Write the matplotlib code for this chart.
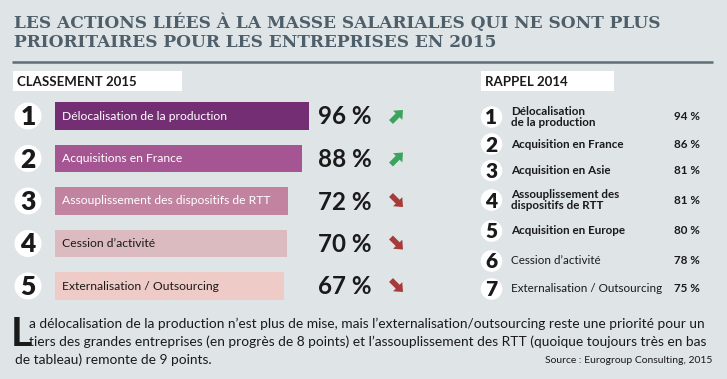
import matplotlib
matplotlib.use("Agg")
import matplotlib.pyplot as plt
from matplotlib import font_manager
from matplotlib.patches import Circle, Rectangle, FancyArrow


def pick(*names):
    for n in names:
        try:
            font_manager.findfont(font_manager.FontProperties(family=n),
                                  fallback_to_default=False)
            return n
        except Exception:
            pass
    return "DejaVu Sans"


SANS = pick("Lato", "Open Sans")
SERIF = pick("DejaVu Serif")

# --- données ---
titre = ["LES ACTIONS LIÉES À LA MASSE SALARIALES QUI NE SONT PLUS",
         "PRIORITAIRES POUR LES ENTREPRISES EN 2015"]
rangs_2015 = [1, 2, 3, 4, 5]
libelles_2015 = ["Délocalisation de la production", "Acquisitions en France",
                 "Assouplissement des dispositifs de RTT", "Cession d’activité",
                 "Externalisation / Outsourcing"]
valeurs_2015 = [96, 88, 72, 70, 67]
tendance_2015 = ["hausse", "hausse", "baisse", "baisse", "baisse"]

rangs_2014 = [1, 2, 3, 4, 5, 6, 7]
libelles_2014 = ["Délocalisation\nde la production", "Acquisition en France",
                 "Acquisition en Asie", "Assouplissement des\ndispositifs de RTT",
                 "Acquisition en Europe", "Cession d’activité",
                 "Externalisation / Outsourcing"]
valeurs_2014 = [94, 86, 81, 81, 80, 78, 75]
gras_2014 = [True, True, True, True, True, False, False]

commentaire = [
    "a délocalisation de la production n’est plus de mise, mais l’externalisation/outsourcing reste une priorité pour un",
    "tiers des grandes entreprises (en progrès de 8 points) et l’assouplissement des RTT (quoique toujours très en bas",
    "de tableau) remonte de 9 points.",
]
source = "Source : Eurogroup Consulting, 2015"

# --- styles ---
FOND = "#dfe4e7"
TITRE_C = "#4e5f6a"
NOIR = "#1a1a1a"
COUL_BARRES = ["#742f74", "#a45592", "#c183a0", "#dbbac0", "#efcbc7"]
COUL_TXT_BARRES = ["white", "white", "white", NOIR, NOIR]
VERT, ROUGE = "#3aa35c", "#a63b3a"
BASE = -200          # origine fictive des barres

fig = plt.figure(figsize=(7.27, 3.79), dpi=100, facecolor=FOND)
ax = fig.add_axes([0, 0, 1, 1])
ax.set_xlim(0, 727)
ax.set_ylim(379, 0)
ax.axis("off")
ax.set_zorder(2)
fig.canvas.draw()
rend = fig.canvas.get_renderer()


def taille(s, largeur, **kw):
    # taille de police pour que s fasse `largeur` pixels
    prop = font_manager.FontProperties(size=10, **kw)
    w, _, _ = rend.get_text_width_height_descent(s, prop, ismath=False)
    return 10 * largeur / w


ts = taille(titre[0], 649, family=SERIF, weight="bold")
fs_bar = taille(libelles_2015[0], 165, family=SANS)
fs_pct = taille("96 %", 54, family=SANS, weight="bold")
fs_r = taille("Acquisition en France", 113, family=SANS, weight="bold")
fs_c = taille(commentaire[0], 677, family=SANS)

# titre
ax.text(14, 28, titre[0], family=SERIF, weight="bold", fontsize=ts,
        color=TITRE_C, va="baseline")
ax.text(14, 47, titre[1], family=SERIF, weight="bold", fontsize=ts,
        color=TITRE_C, va="baseline")
ax.plot([12, 713], [61.5, 61.5], color="#5e6e77", lw=1.8,
        solid_capstyle="butt")

# encadrés de section
for x0, w, txt in [(13, 169, "CLASSEMENT 2015"), (481, 133, "RAPPEL 2014")]:
    ax.add_patch(Rectangle((x0, 71), w, 20, fc="white", ec="none"))
    ax.text(x0 + 4, 81.5, txt, family=SANS, weight="bold", fontsize=9.5,
            color=NOIR, va="center")

# --- classement 2015 : barres ---
Y0, PAS = 116, 42.5
axb = fig.add_axes([55 / 727, 1 - (Y0 + 4.5 * PAS) / 379,
                    0.858 * (100 - BASE) / 727, 5 * PAS / 379])
axb.set_zorder(1)
axb.barh(range(len(valeurs_2015)), [v - BASE for v in valeurs_2015],
         left=BASE, height=0.64, color=COUL_BARRES)
axb.set_xlim(BASE, 100)
axb.set_ylim(len(valeurs_2015) - 0.5, -0.5)
axb.axis("off")

for i, (r, lab, v, tnd) in enumerate(zip(rangs_2015, libelles_2015,
                                         valeurs_2015, tendance_2015)):
    y = Y0 + i * PAS
    ax.add_patch(Circle((28, y), 13.5, fc="white", ec="none"))
    ax.text(28, y + 1, str(r), ha="center", va="center", family=SANS,
            weight="heavy", fontsize=19, color=NOIR)
    ax.text(62, y, lab, va="center", family=SANS, fontsize=fs_bar,
            color=COUL_TXT_BARRES[i])
    ax.text(318, y + 1, f"{v} %", va="center", family=SANS, weight="bold",
            fontsize=fs_pct, color=NOIR)
    if tnd == "hausse":
        fl = FancyArrow(391, y + 6, 12, -12, width=5.5, head_width=13,
                        head_length=7.5, length_includes_head=True,
                        color=VERT, lw=0)
    else:
        fl = FancyArrow(391, y - 6, 12, 12, width=5.5, head_width=13,
                        head_length=7.5, length_includes_head=True,
                        color=ROUGE, lw=0)
    ax.add_patch(fl)

# --- rappel 2014 ---
lignes_2014 = [117, 144, 170.5, 200, 231, 261, 289]
for r, lab, v, g, y in zip(rangs_2014, libelles_2014, valeurs_2014,
                           gras_2014, lignes_2014):
    ax.add_patch(Circle((491.5, y), 10.8, fc="white", ec="none"))
    ax.text(491.5, y + 1, str(r), ha="center", va="center", family=SANS,
            weight="heavy", fontsize=15, color=NOIR)
    ax.text(511, y, lab, va="center", family=SANS,
            weight="bold" if g else "normal", fontsize=fs_r,
            color=NOIR, linespacing=0.95)
    ax.text(700, y, f"{v} %", va="center", ha="right", family=SANS,
            weight="bold", fontsize=fs_r, color=NOIR)

# --- commentaire ---
ax.text(11, 346, "L", family=SANS, weight="bold", fontsize=29, color=NOIR,
        va="baseline")
ax.text(29, 328, commentaire[0], family=SANS, fontsize=fs_c, color=NOIR,
        va="baseline")
ax.text(29, 346, commentaire[1], family=SANS, fontsize=fs_c, color=NOIR,
        va="baseline")
ax.text(15, 364, commentaire[2], family=SANS, fontsize=fs_c, color=NOIR,
        va="baseline")
ax.text(712, 363, source, family=SANS, fontsize=fs_c * 0.75, color=NOIR,
        ha="right", va="baseline")

fig.savefig("out.png", dpi=100, facecolor=FOND)
